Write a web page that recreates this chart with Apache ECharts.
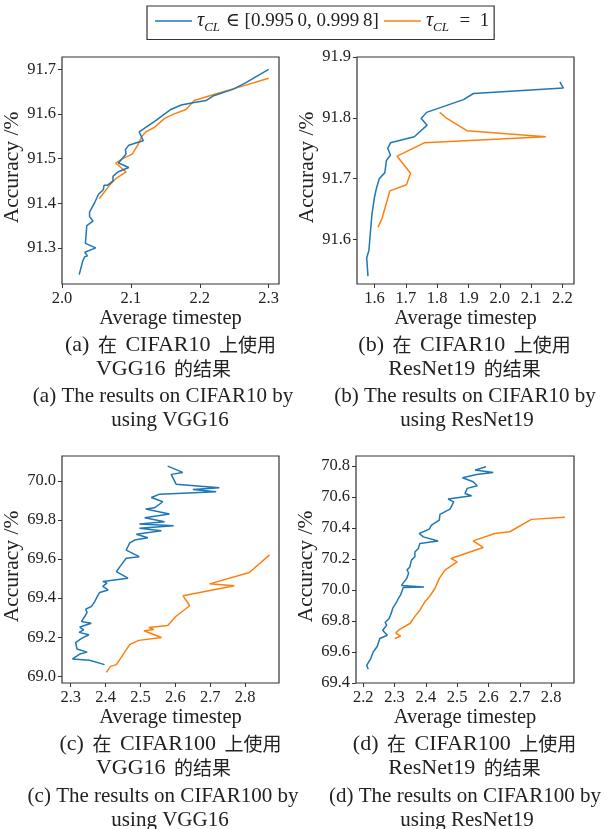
<!DOCTYPE html>
<html><head><meta charset="utf-8">
<script src="https://cdn.jsdelivr.net/npm/echarts@6/dist/echarts.min.js"></script>
<style>html,body{margin:0;padding:0;background:#fff}#c{width:606px;height:829px}</style>
</head><body><div id="c"></div>
<script>
// ---------- data ----------
const seriesNames = ['τCL ∈ [0.995 0, 0.999 8]', 'τCL = 1'];
const xAxisName = 'Average timestep';
const yAxisName = 'Accuracy /%';

// (a) CIFAR10 VGG16
const aBlue = [[2.025,91.240],[2.030,91.270],[2.033,91.280],[2.037,91.282],[2.033,91.290],[2.049,91.300],[2.034,91.310],[2.036,91.350],[2.045,91.360],[2.040,91.370],[2.040,91.380],[2.047,91.400],[2.053,91.420],[2.060,91.430],[2.061,91.440],[2.066,91.440],[2.074,91.450],[2.074,91.460],[2.081,91.470],[2.097,91.480],[2.082,91.490],[2.093,91.510],[2.092,91.520],[2.097,91.530],[2.107,91.535],[2.118,91.540],[2.112,91.560],[2.136,91.585],[2.158,91.610],[2.173,91.620],[2.190,91.625],[2.209,91.630],[2.219,91.640],[2.248,91.655],[2.267,91.670],[2.300,91.700]];
const aOrange = [[2.054,91.410],[2.069,91.440],[2.078,91.455],[2.093,91.470],[2.078,91.490],[2.088,91.500],[2.102,91.510],[2.110,91.530],[2.116,91.550],[2.122,91.560],[2.134,91.570],[2.149,91.590],[2.163,91.600],[2.180,91.610],[2.192,91.630],[2.224,91.645],[2.257,91.660],[2.300,91.680]];
const aTicksX = [2.0, 2.1, 2.2, 2.3];
const aTicksY = [91.3, 91.4, 91.5, 91.6, 91.7];

// (b) CIFAR10 ResNet19
const bBlue = [[1.579,91.540],[1.575,91.570],[1.582,91.582],[1.587,91.613],[1.592,91.643],[1.600,91.670],[1.606,91.684],[1.615,91.700],[1.633,91.710],[1.638,91.730],[1.651,91.739],[1.642,91.750],[1.651,91.759],[1.727,91.769],[1.768,91.788],[1.749,91.799],[1.766,91.809],[1.884,91.830],[1.916,91.840],[2.203,91.849],[2.192,91.859]];
const bOrange = [[1.611,91.620],[1.624,91.635],[1.649,91.680],[1.702,91.690],[1.715,91.709],[1.672,91.737],[1.670,91.740],[1.759,91.759],[2.147,91.769],[1.895,91.779],[1.831,91.799],[1.808,91.809]];
const bTicksX = [1.6, 1.7, 1.8, 1.9, 2.0, 2.1, 2.2];
const bTicksY = [91.6, 91.7, 91.8, 91.9];

// (c) CIFAR100 VGG16
const cBlue = [[2.397,69.060],[2.354,69.082],[2.305,69.089],[2.326,69.114],[2.347,69.124],[2.318,69.140],[2.314,69.173],[2.331,69.194],[2.352,69.213],[2.324,69.225],[2.337,69.238],[2.326,69.252],[2.359,69.272],[2.331,69.281],[2.340,69.306],[2.347,69.327],[2.343,69.344],[2.359,69.357],[2.369,69.383],[2.376,69.408],[2.383,69.429],[2.407,69.442],[2.392,69.460],[2.404,69.478],[2.392,69.485],[2.464,69.502],[2.431,69.536],[2.445,69.570],[2.459,69.604],[2.496,69.612],[2.459,69.646],[2.469,69.682],[2.483,69.697],[2.521,69.709],[2.488,69.727],[2.560,69.745],[2.497,69.757],[2.595,69.770],[2.497,69.779],[2.569,69.791],[2.512,69.811],[2.583,69.830],[2.515,69.856],[2.540,69.862],[2.564,69.893],[2.531,69.915],[2.555,69.932],[2.717,69.944],[2.650,69.956],[2.726,69.964],[2.602,69.983],[2.588,70.033],[2.621,70.043],[2.578,70.075]];
const cOrange = [[2.402,69.020],[2.414,69.051],[2.431,69.060],[2.469,69.162],[2.495,69.184],[2.560,69.199],[2.510,69.233],[2.538,69.240],[2.524,69.250],[2.578,69.260],[2.601,69.306],[2.641,69.361],[2.622,69.412],[2.769,69.463],[2.698,69.473],[2.812,69.531],[2.870,69.621]];
const cTicksX = [2.3, 2.4, 2.5, 2.6, 2.7, 2.8];
const cTicksY = [69.0, 69.2, 69.4, 69.6, 69.8, 70.0];

// (d) CIFAR100 ResNet19
const dBlue = [[2.216,69.489],[2.211,69.514],[2.224,69.558],[2.232,69.600],[2.245,69.637],[2.253,69.687],[2.277,69.708],[2.262,69.741],[2.275,69.773],[2.270,69.790],[2.283,69.816],[2.291,69.859],[2.294,69.881],[2.307,69.923],[2.312,69.945],[2.319,69.967],[2.328,70.016],[2.394,70.020],[2.322,70.030],[2.339,70.075],[2.345,70.110],[2.340,70.130],[2.349,70.149],[2.344,70.160],[2.354,70.193],[2.365,70.215],[2.365,70.246],[2.376,70.268],[2.381,70.301],[2.439,70.316],[2.392,70.343],[2.379,70.365],[2.411,70.393],[2.418,70.419],[2.443,70.451],[2.445,70.488],[2.477,70.522],[2.489,70.569],[2.471,70.587],[2.546,70.608],[2.525,70.623],[2.532,70.656],[2.564,70.673],[2.551,70.699],[2.517,70.725],[2.562,70.746],[2.615,70.759],[2.557,70.774],[2.592,70.796]];
const dOrange = [[2.301,69.687],[2.319,69.702],[2.304,69.723],[2.315,69.745],[2.349,69.784],[2.365,69.830],[2.381,69.870],[2.397,69.925],[2.411,69.956],[2.429,70.010],[2.443,70.075],[2.461,70.128],[2.500,70.182],[2.480,70.204],[2.583,70.275],[2.551,70.317],[2.620,70.365],[2.668,70.376],[2.737,70.456],[2.844,70.469]];
const dTicksX = [2.2, 2.3, 2.4, 2.5, 2.6, 2.7, 2.8];
const dTicksY = [69.4, 69.6, 69.8, 70.0, 70.2, 70.4, 70.6, 70.8];

const captions = [
  ['(a) 在 CIFAR10 上使用', 'VGG16 的结果', '(a) The results on CIFAR10 by', 'using VGG16'],
  ['(b) 在 CIFAR10 上使用', 'ResNet19 的结果', '(b) The results on CIFAR10 by', 'using ResNet19'],
  ['(c) 在 CIFAR100 上使用', 'VGG16 的结果', '(c) The results on CIFAR100 by', 'using VGG16'],
  ['(d) 在 CIFAR100 上使用', 'ResNet19 的结果', '(d) The results on CIFAR100 by', 'using ResNet19']
];

// ---------- layout / style ----------
const SERIF = '"Liberation Serif","DejaVu Serif",serif';
const CJK = '"Noto Sans CJK SC",sans-serif';
const BLUE = '#1f77b4', ORANGE = '#ff7f0e', INK = '#222', FRAME = '#333';

const panels = [
  {grid:{left:62, top:57, width:217, height:227}, x:[2.0,2.315], y:[91.219,91.7275], tx:aTicksX, ty:aTicksY, blue:aBlue, orange:aOrange},
  {grid:{left:357, top:57, width:217, height:227}, x:[1.544,2.237], y:[91.527,91.9], tx:bTicksX, ty:bTicksY, blue:bBlue, orange:bOrange},
  {grid:{left:62, top:456, width:217, height:227}, x:[2.275,2.897], y:[68.966,70.127], tx:cTicksX, ty:cTicksY, blue:cBlue, orange:cOrange},
  {grid:{left:356, top:456, width:218, height:227}, x:[2.177,2.873], y:[69.4,70.865], tx:dTicksX, ty:dTicksY, blue:dBlue, orange:dOrange}
];
const capX = [[172, 165, 163, 170], [466, 466, 465, 467], [172, 165, 163, 170], [466, 466, 465, 467]];
const capY = [[345, 369, 396, 420], [345, 369, 396, 420], [744, 768, 796, 820], [744, 768, 796, 820]];

const labelStyle = {color: INK, fontSize: 16.5, fontFamily: SERIF};
const xNameStyle = {color: INK, fontSize: 20.5, fontFamily: SERIF};
const yNameStyle = {color: INK, fontSize: 21.5, fontFamily: SERIF, padding: [0, 0, 0, 6]};

const grids = [], xAxes = [], yAxes = [], series = [];
panels.forEach((p, i) => {
  grids.push(Object.assign({show: true, borderColor: FRAME, borderWidth: 1.2, backgroundColor: 'transparent', containLabel: false, outerBoundsMode: 'none'}, p.grid));
  xAxes.push({
    type: 'value', gridIndex: i, min: p.x[0], max: p.x[1],
    axisLine: {show: false}, splitLine: {show: false},
    axisTick: {show: true, inside: false, length: 4, lineStyle: {color: FRAME, width: 1}, customValues: p.tx},
    axisLabel: Object.assign({customValues: p.tx, margin: 6, formatter: v => v.toFixed(1)}, labelStyle),
    name: xAxisName, nameLocation: 'middle', nameGap: 20, nameTextStyle: xNameStyle
  });
  yAxes.push({
    type: 'value', gridIndex: i, min: p.y[0], max: p.y[1],
    axisLine: {show: false}, splitLine: {show: false},
    axisTick: {show: true, inside: false, length: 4, lineStyle: {color: FRAME, width: 1}, customValues: p.ty},
    axisLabel: Object.assign({customValues: p.ty, margin: 6, formatter: v => v.toFixed(1)}, labelStyle),
    name: yAxisName, nameLocation: 'middle', nameGap: 36, nameRotate: 90, nameTextStyle: yNameStyle
  });
  [[p.blue, BLUE, 0], [p.orange, ORANGE, 1]].forEach(([d, col, k]) => {
    series.push({
      type: 'line', name: seriesNames[k], xAxisIndex: i, yAxisIndex: i, data: d,
      showSymbol: false, symbol: 'none', smooth: false, clip: true,
      itemStyle: {color: col}, lineStyle: {color: col, width: 1.5},
      emphasis: {disabled: true}, silent: true, z: 3 - k
    });
  });
});

function richLine(s) {
  const parts = s.match(/[\u3000-\u9fff]+|[^\u3000-\u9fff]+/g);
  return parts.map(t => /[\u3000-\u9fff]/.test(t) ? '{c|' + t + '}' : '{l|' + t + '}').join('');
}
const graphics = [];
captions.forEach((lines, i) => {
  lines.forEach((ln, j) => {
    const zh = j < 2;
    graphics.push({
      type: 'text', x: capX[i][j], y: capY[i][j], silent: true,
      style: {
        text: richLine(ln), align: 'center', verticalAlign: 'middle', fill: INK,
        rich: {
          l: {fontFamily: SERIF, fontSize: zh ? 22 : 21, fill: INK, verticalAlign: 'middle'},
          c: {fontFamily: CJK, fontSize: 19, fill: INK, verticalAlign: 'middle', padding: [0, 3, 0, 3]}
        }
      }
    });
  });
});

const chart = echarts.init(document.getElementById('c'), null, {renderer: 'canvas'});
chart.setOption({
  animation: false,
  backgroundColor: '#fff',
  legend: {
    data: seriesNames, left: 147, top: 6, orient: 'horizontal',
    selectedMode: false, icon: 'rect', itemWidth: 37, itemHeight: 1.6, itemGap: 5,
    borderColor: FRAME, borderWidth: 1.2, borderRadius: 0, padding: [5, 5, 5, 8],
    formatter: name => name === seriesNames[0]
      ? '{t|τ}{s|CL}{n| ∈ [0.995\u20090, 0.999\u20098]}'
      : '{t|τ}{s|CL}{n|\u2002=\u20021}',
    textStyle: {
      color: INK, fontFamily: SERIF, fontSize: 19,
      rich: {
        t: {fontFamily: SERIF, fontStyle: 'italic', fontSize: 20, lineHeight: 27, verticalAlign: 'middle', color: INK},
        s: {fontFamily: SERIF, fontStyle: 'italic', fontSize: 13, lineHeight: 27, verticalAlign: 'bottom', color: INK, padding: [0, 1, 0, 0]},
        n: {fontFamily: SERIF, fontSize: 19, lineHeight: 27, verticalAlign: 'middle', color: INK}
      }
    }
  },
  grid: grids, xAxis: xAxes, yAxis: yAxes, series: series, graphic: graphics
});
</script></body></html>
